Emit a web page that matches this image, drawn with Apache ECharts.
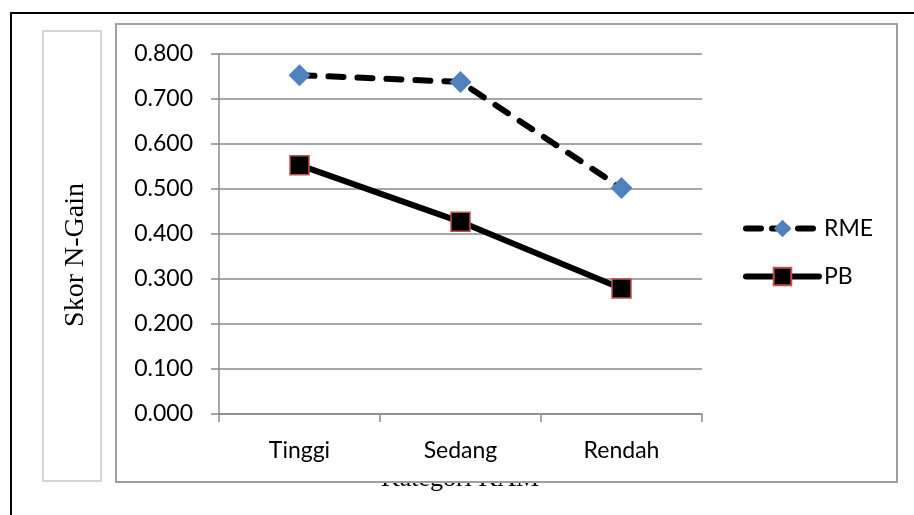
<!DOCTYPE html>
<html>
<head>
<meta charset="utf-8">
<script src="https://cdn.jsdelivr.net/npm/echarts@6/dist/echarts.min.js"></script>
<style>
  html, body { margin: 0; padding: 0; background: #fff; }
  #chart { width: 914px; height: 515px; }
</style>
</head>
<body>
<div id="chart"></div>
<script>
// Kategori KAM groups on the x axis
const categories = ['Tinggi', 'Sedang', 'Rendah'];
// Mean N-Gain scores per group
const rmeValues = [0.753, 0.738, 0.502];
const pbValues = [0.553, 0.427, 0.279];
// Value axis range and step
const yMin = 0;
const yMax = 0.8;
const yStep = 0.1;

const labelFont = 'Lato, "Open Sans", sans-serif';
const serifFont = '"Liberation Serif", "DejaVu Serif", serif';
const gridGray = '#8a8a8a';

const rmeLine = { color: '#000', width: 6, type: [15, 14], cap: 'round' };
const pbLine = { color: '#000', width: 6, type: 'solid' };

const chart = echarts.init(document.getElementById('chart'), null, { renderer: 'canvas' });

chart.setOption({
  animation: false,
  backgroundColor: '#ffffff',
  grid: { left: 219, right: 212, top: 54, bottom: 101 },
  xAxis: {
    type: 'category',
    data: categories,
    boundaryGap: true,
    axisLine: { show: true, lineStyle: { color: gridGray, width: 1.5 } },
    axisTick: { show: true, length: 8, alignWithLabel: false, lineStyle: { color: gridGray, width: 1.5 } },
    axisLabel: { margin: 25, color: '#000', fontSize: 23, fontFamily: labelFont },
    splitLine: { show: false }
  },
  yAxis: {
    type: 'value',
    min: yMin,
    max: yMax,
    interval: yStep,
    axisLine: { show: true, lineStyle: { color: gridGray, width: 1.5 } },
    axisTick: { show: true, length: 8, lineStyle: { color: gridGray, width: 1.5 } },
    axisLabel: {
      margin: 26,
      color: '#000',
      fontSize: 23,
      fontFamily: labelFont,
      formatter: v => v.toFixed(3)
    },
    splitLine: { show: true, lineStyle: { color: gridGray, width: 1.5 } }
  },
  legend: {
    orient: 'vertical',
    left: 743,
    top: 217,
    padding: 0,
    itemWidth: 73,
    itemHeight: 22,
    itemGap: 25,
    textStyle: { color: '#000', fontSize: 23, fontFamily: labelFont },
    data: [
      { name: 'RME', lineStyle: { width: 6, type: [15, 11], cap: 'round' } },
      { name: 'PB', lineStyle: { width: 6, type: 'solid', cap: 'round' } }
    ]
  },
  series: [
    {
      name: 'RME',
      type: 'line',
      data: rmeValues,
      symbol: 'diamond',
      symbolSize: 22,
      z: 3,
      lineStyle: rmeLine,
      itemStyle: { color: '#4F81BD', borderWidth: 0 }
    },
    {
      name: 'PB',
      type: 'line',
      data: pbValues,
      symbol: 'rect',
      symbolSize: 19,
      z: 3,
      lineStyle: pbLine,
      itemStyle: { color: '#000', borderColor: '#C0504D', borderWidth: 1.5 }
    }
  ],
  graphic: [
    // outer frame
    {
      type: 'rect', z: -10,
      shape: { x: 11, y: 13, width: 1000, height: 1000 },
      style: { fill: '#fff', stroke: '#000', lineWidth: 2 }
    },
    // x axis title, partly tucked under the plot frame
    {
      type: 'text', z: -5,
      x: 460, y: 479,
      style: {
        text: 'Kategori KAM',
        font: '26px ' + serifFont,
        fill: '#000',
        align: 'center',
        verticalAlign: 'middle'
      }
    },
    // plot frame
    {
      type: 'rect', z: -1,
      shape: { x: 116, y: 24, width: 781, height: 458 },
      style: { fill: '#fff', stroke: '#a0a0a0', lineWidth: 2 }
    },
    // y axis title box
    {
      type: 'rect', z: -1,
      shape: { x: 43, y: 31, width: 58, height: 450 },
      style: { fill: '#fff', stroke: '#c8c8c8', lineWidth: 1.5 }
    },
    {
      type: 'text', z: 1,
      x: 76, y: 255,
      rotation: Math.PI / 2,
      style: {
        text: 'Skor N-Gain',
        font: '28px ' + serifFont,
        fill: '#000',
        align: 'center',
        verticalAlign: 'middle'
      }
    }
  ]
});
</script>
</body>
</html>
